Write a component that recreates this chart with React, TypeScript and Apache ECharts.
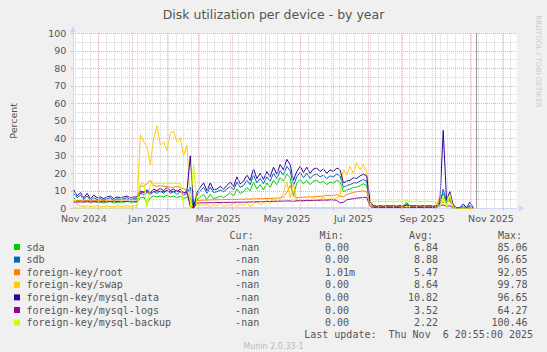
import React, { useEffect, useRef } from 'react';
import * as echarts from 'echarts';

// Time axis: days since 2024-11-01 00:00
const START_DAY = 8;
const STEP_DAYS = 3;
const X_MIN = 7.25;
const X_MAX = 407.25;
const NOW_DAY = 370.87;
const monthStartDays = [30, 61, 92, 120, 151, 181, 212, 242, 273, 304, 334, 365, 395];
const FIRST_WEEK_DAY = 9;
const labelDays = [17, 76, 138, 200, 260, 322, 384];
const labelTexts = ['Nov 2024', 'Jan 2025', 'Mar 2025', 'May 2025', 'Jul 2025', 'Sep 2025', 'Nov 2025'];

const sda = [
  6, 4, 4.5, 3.5, 4.5, 3, 4, 3.5, 3.5, 3, 3.5, 4, 3, 3.5, 3.5, 3.5, 4, 3.5, 3.5,
  3.5, 6, 6.5, 3, 6, 7, 6.5, 7, 6.5, 7.5, 6.5, 7, 6, 7, 5.5, 6.5,
  6, 0.2,
  5, 6.5, 8, 5, 8, 5.5, 6, 7, 6, 7.5,
  9, 7, 11, 8.5, 9.5, 12, 10, 15, 11, 13.5,
  10.5, 14.5, 12, 16, 13.5, 17.5, 15.5, 19.5, 17.5, 7,
  14.5, 16.5, 14, 16, 13.5, 15.5, 16, 14.5, 15.5, 13.5,
  15, 14.5, 16, 15, 9.5, 10.5, 11, 12, 12, 13,
  14, 13, 2,
  1, 0.8, 1, 0.8, 1, 0.9, 1, 0.8, 1, 0.9,
  3.5, 1, 0.9, 1, 0.8, 1, 0.9, 1, 0.8, 1,
  4, 8.5, 3, 5, 0.5, 0.1, 0.1, 0.5, 0.1, 1, 0.1,
];
const sdb = [
  8.5, 6, 7.5, 5, 7, 4.5, 6, 5, 5.5, 4.5, 5.5, 6, 4.5, 5.5, 5, 5.5, 6, 5, 5.5,
  5.5, 8.5, 8, 9, 8, 9.5, 8.5, 10, 8.5, 10.5, 8.5, 9.5, 8, 9.5, 7.5, 8.5,
  12, 0.3,
  7.5, 10, 12, 8.5, 12, 9, 9.5, 10.5, 9.5, 11,
  12.5, 10.5, 15, 12, 13, 16, 13.5, 19, 14.5, 17,
  14, 18, 15.5, 20, 17, 21.5, 19, 24, 21.5, 13,
  18, 20.5, 17.5, 20, 17, 19, 19.5, 18, 19, 17,
  18.5, 18, 19.5, 18.5, 12, 13, 13.5, 14.5, 14.5, 15.5,
  16.5, 15.5, 3,
  1.3, 1, 1.2, 1, 1.2, 1.1, 1.2, 1, 1.2, 1.1,
  1.8, 1.2, 1.1, 1.2, 1, 1.2, 1.1, 1.2, 1, 1.2,
  2.5, 11, 4, 6, 1, 0.2, 0.2, 1, 0.2, 1.5, 0.2,
];
const fkRoot = [
  4, 4.3, 4.3, 4.4, 4.4, 4.5, 4.5, 4.5, 4.6, 4.6, 4.6, 4.7, 4.7, 4.7, 4.8, 4.8, 4.8, 4.9, 5,
  5, 13, 12.5, 14, 16, 13, 12.5, 13, 12.5, 12.5, 12, 12, 12.5, 12, 11, 10.5,
  2, 0.5,
  4.5, 4.6, 4.7, 4.7, 4.8, 4.8, 4.9, 4.9, 5, 5,
  5, 5.1, 5.1, 5.2, 5.2, 5.3, 5.3, 5.4, 5.4, 5.5,
  5.5, 5.6, 5.6, 5.7, 5.8, 6, 6.5, 9, 13, 7,
  6, 6.2, 6.3, 6.5, 6.5, 6.6, 6.8, 6.8, 7, 7.5,
  7.2, 7.3, 7.8, 7, 6.5, 8, 8.5, 9, 9.5, 9.8,
  10, 9.5, 2,
  1, 0.9, 1, 0.9, 1, 0.9, 1, 0.9, 1, 0.9,
  2.5, 1, 0.9, 1, 0.9, 1, 0.9, 1, 0.9, 1.5,
  6.5, 3, 5, 4, 1, 0.2, 0.1, 0.3, 0.1, 0.3, 0.1,
];
const fkSwap = [
  5, 2, 1.5, 1, 1.5, 1, 1.2, 1.5, 1, 1, 1.5, 1, 1, 1.5, 1, 1.2, 1.5, 1, 1.5,
  1.5, 42, 38, 35, 25, 40, 47, 36, 38, 33, 43, 44, 38, 40, 30, 36,
  1, 0.2,
  2.5, 2, 1.5, 2.5, 1, 2, 1.5, 3, 1, 2,
  1.5, 3, 1, 2.5, 1.5, 3.5, 1, 2.5, 4, 2,
  3, 5, 3, 6, 3.5, 5, 9, 15, 6, 14,
  4, 5, 3.5, 5.5, 4, 6, 4.5, 5, 6.5, 4,
  5.5, 5, 6, 7, 22, 19, 24, 20, 26, 22,
  25, 21, 3,
  0.8, 0.7, 0.9, 0.8, 0.7, 0.8, 0.9, 0.7, 0.8, 0.8,
  1.5, 0.8, 0.7, 0.9, 0.8, 0.7, 0.8, 0.9, 0.8, 1,
  4, 6, 2, 7, 0.5, 0.2, 0.2, 0.2, 0.2, 0.2, 0.2,
];
const fkMysqlData = [
  10.5, 7, 9, 6, 8.5, 5.5, 7.5, 6, 6.5, 5.5, 6.5, 7, 5.5, 6.5, 6, 6.5, 7, 6, 6.5,
  6.5, 10, 9, 10.5, 9, 11, 10, 11.5, 10, 12, 10, 11, 9.5, 11, 8.5, 10,
  30, 0.5,
  9, 12, 14.5, 10, 14.5, 10.5, 11, 12.5, 11, 13,
  15, 12.5, 18, 14, 15.5, 19, 16, 22.5, 17, 20,
  16.5, 21, 18, 23.5, 19.5, 25, 22, 28, 25, 16,
  21, 24, 20.5, 23.5, 20, 22.5, 23, 21, 22.5, 20,
  22, 21, 23, 22, 14.5, 15.5, 16, 17.5, 17, 18.5,
  19.5, 18.5, 4,
  1.5, 1.2, 1.5, 1.2, 1.5, 1.3, 1.5, 1.2, 1.5, 1.3,
  2, 1.5, 1.3, 1.5, 1.2, 1.5, 1.3, 1.5, 1.2, 1.5,
  3, 44.5, 5, 9.5, 2, 0.3, 0.3, 2.5, 0.3, 3.5, 0.3,
];
const fkMysqlLogs = [
  3.5, 3.6, 3.6, 3.6, 3.7, 3.7, 3.7, 3.7, 3.8, 3.8, 3.8, 3.8, 3.8, 3.9, 3.9, 3.9, 3.9, 4, 4,
  4, 9, 9.5, 9.5, 9, 9.5, 10, 9.5, 9.5, 10, 9.5, 9.5, 10, 9.5, 9, 9,
  1, 0.1,
  3, 3.1, 3.1, 3.2, 3.2, 3.2, 3.3, 3.3, 3.3, 3.4,
  3.4, 3.4, 3.5, 3.5, 3.5, 3.6, 3.6, 3.7, 3.7, 3.8,
  3.8, 3.9, 3.9, 4, 4, 4.1, 4.1, 4.2, 4.2, 4,
  4.3, 4.3, 4.4, 4.4, 4.5, 4.5, 4.6, 4.6, 4.7, 4.7,
  4.8, 4.8, 4.5, 3, 3.5, 4.8, 5.2, 5.5, 5.8, 6,
  6.2, 6.3, 1,
  0.5, 0.5, 0.4, 0.5, 0.5, 0.4, 0.5, 0.5, 0.4, 0.5,
  0.6, 0.5, 0.4, 0.5, 0.5, 0.4, 0.5, 0.5, 0.4, 0.5,
  1.5, 2, 1, 1.5, 0.2, 0.1, 0.1, 0.1, 0.1, 0.1, 0.1,
];
const fkMysqlBackup = [
  0.3, 0.2, 0.2, 0.3, 0.2, 0.2, 0.3, 0.2, 0.2, 0.3, 0.2, 0.2, 0.3, 0.2, 0.2, 0.3, 0.2, 0.2, 0.3,
  0.5, 14, 14.5, 0.5, 14, 14.5, 14, 14.5, 14, 14.5, 14, 14.5, 14, 14.5, 0.3, 0.2,
  0.2, 25,
  0.4, 0.4, 0.5, 0.4, 0.4, 0.5, 0.4, 0.4, 0.5, 0.4,
  0.4, 0.5, 0.4, 0.4, 0.5, 0.4, 0.4, 0.5, 0.4, 0.4,
  0.5, 0.4, 0.4, 0.5, 0.4, 0.4, 0.5, 0.4, 0.4, 0.5,
  0.4, 0.4, 0.5, 0.4, 0.4, 0.5, 0.4, 0.4, 0.5, 0.4,
  0.4, 0.5, 0.4, 0.4, 0.5, 0.4, 0.4, 0.5, 0.4, 0.4,
  0.5, 0.4, 2,
  4, 4.2, 3.8, 4, 3.9, 4.1, 3.8, 4, 4.2, 3.9,
  4.5, 4, 3.8, 4.1, 3.9, 4, 4.2, 3.8, 4, 3,
  0.3, 6, 0.2, 8, 0.1, 0, 0, 0, 0, 0, 0,
];

const seriesNames = ['sda', 'sdb', 'foreign-key/root', 'foreign-key/swap', 'foreign-key/mysql-data', 'foreign-key/mysql-logs', 'foreign-key/mysql-backup'];
const seriesColors = ['#00CC00', '#0066B3', '#FF8000', '#FFCC00', '#330099', '#990099', '#CCFF00'];
const seriesValues = [sda, sdb, fkRoot, fkSwap, fkMysqlData, fkMysqlLogs, fkMysqlBackup];
const curValues = ['-nan', '-nan', '-nan', '-nan', '-nan', '-nan', '-nan'];
const minValues = ['0.00', '0.00', '1.01m', '0.00', '0.00', '0.00', '0.00'];
const avgValues = ['6.84', '8.88', '5.47', '8.64', '10.82', '3.52', '2.22'];
const maxValues = ['85.06', '96.65', '92.05', '99.78', '96.65', '64.27', '100.46'];

const TITLE = 'Disk utilization per device - by year';
const Y_NAME = 'Percent';
const LAST_UPDATE = 'Last update:\u00a0 Thu Nov\u00a0 6 20:55:00 2025';
const FOOTER = 'Munin 2.0.33-1';
const WATERMARK = 'RRDTOOL / TOBI OETIKER';

const SANS = 'DejaVu Sans';
const MONO = 'DejaVu Sans Mono';
const MINOR_GRID = '#D4D4D4';
const MAJOR_GRID = '#F4AAAA';

function buildOption() {
  const days = sda.map((_, i) => START_DAY + STEP_DAYS * i);
  const weekDays: number[] = [];
  for (let d = FIRST_WEEK_DAY; d < X_MAX; d += 7) weekDays.push(d);

  const gridMarks = [
    ...weekDays.map((d) => ({ xAxis: d, lineStyle: { color: MINOR_GRID, type: [1, 1], width: 1 } })),
    ...monthStartDays.map((d) => ({ xAxis: d, lineStyle: { color: MAJOR_GRID, type: [1, 1], width: 1 } })),
    { xAxis: NOW_DAY, lineStyle: { color: '#999999', type: 'solid', width: 1 } },
  ];

  const graphics: any[] = [];
  const txt = (text: string, x: number, y: number, opts: any = {}) => ({
    type: 'text',
    silent: true,
    x,
    y,
    rotation: opts.rotation || 0,
    style: {
      text,
      fill: opts.fill || '#555555',
      fontSize: opts.fontSize || 10,
      fontFamily: opts.fontFamily || MONO,
      align: opts.align || 'left',
      verticalAlign: 'middle',
      textAlign: opts.align || 'left',
      textVerticalAlign: 'middle',
    },
  });

  graphics.push(txt(TITLE, 273.5, 14.5, { fontFamily: SANS, fontSize: 12.5, align: 'center', fill: '#555555' }));
  graphics.push(txt(WATERMARK, 538.5, 61.5, { fontFamily: SANS, fontSize: 7.2, align: 'center', fill: '#CCCCCC', rotation: -Math.PI / 2 }));

  const headerY = 235;
  graphics.push(txt('Cur:', 229.6, headerY));
  graphics.push(txt('Min:', 319.6, headerY));
  graphics.push(txt('Avg:', 409, headerY));
  graphics.push(txt('Max:', 498, headerY));

  seriesNames.forEach((name, i) => {
    const y = 247 + 12.6 * i;
    graphics.push({
      type: 'rect',
      silent: true,
      shape: { x: 14, y: y - 3, width: 6, height: 6 },
      style: { fill: seriesColors[i] },
    });
    graphics.push(txt(name, 26.5, y));
    graphics.push(txt(curValues[i], 259.2, y, { align: 'right' }));
    const m = minValues[i].match(/^([-0-9.]+|-nan)([a-zA-Z]?)$/);
    const num = m ? m[1] : minValues[i];
    const unit = m ? m[2] : '';
    graphics.push(txt(num, 349, y, { align: 'right' }));
    if (unit) graphics.push(txt(unit, 349, y));
    graphics.push(txt(avgValues[i], 438, y, { align: 'right' }));
    graphics.push(txt(maxValues[i], 527.6, y, { align: 'right' }));
  });

  graphics.push(txt(LAST_UPDATE, 533, 334.6, { align: 'right' }));
  graphics.push(txt(FOOTER, 273.5, 346, { fontFamily: SANS, fontSize: 8, align: 'center', fill: '#BBBBBB' }));

  return {
    animation: false,
    backgroundColor: '#F0F0F0',
    textStyle: { fontFamily: SANS },
    grid: {
      left: 66.7,
      top: 33.3,
      width: 450,
      height: 175,
      show: true,
      backgroundColor: '#FFFFFF',
      borderWidth: 0,
      containLabel: false,
    },
    xAxis: {
      type: 'value',
      min: X_MIN,
      max: X_MAX,
      axisLine: {
        show: true,
        lineStyle: { color: '#CFD6F8', width: 1 },
        symbol: ['none', 'triangle'],
        symbolSize: [6, 6],
        symbolOffset: [0, 5],
      },
      axisTick: {
        show: true,
        customValues: monthStartDays,
        length: 2,
        lineStyle: { color: MAJOR_GRID, width: 1 },
      },
      splitLine: { show: false },
      axisLabel: {
        customValues: labelDays,
        formatter: (v: number) => {
          const idx = labelDays.indexOf(v);
          return idx >= 0 ? labelTexts[idx] : '';
        },
        color: '#555555',
        fontSize: 9.5,
        lineHeight: 9.5,
        fontFamily: SANS,
        margin: 5.5,
      },
    },
    yAxis: {
      type: 'value',
      min: 0,
      max: 100,
      interval: 10,
      name: Y_NAME,
      nameLocation: 'middle',
      nameGap: 55,
      nameTextStyle: { color: '#555555', fontSize: 9.5, fontFamily: SANS },
      axisLine: {
        show: true,
        lineStyle: { color: '#CFD6F8', width: 1 },
        symbol: ['none', 'triangle'],
        symbolSize: [6, 6],
        symbolOffset: [0, 4],
      },
      axisTick: { show: true, length: 2, lineStyle: { color: MAJOR_GRID, width: 1 } },
      axisLabel: { color: '#555555', fontSize: 9.5, lineHeight: 8, fontFamily: SANS, margin: 6.7 },
      splitLine: { show: true, lineStyle: { color: MAJOR_GRID, type: [1, 1], width: 1 } },
      minorTick: { show: false, splitNumber: 2 },
      minorSplitLine: { show: true, lineStyle: { color: MINOR_GRID, type: [1, 1], width: 1 } },
    },
    graphic: { elements: graphics },
    series: [
      {
        type: 'line',
        name: 'grid',
        data: [],
        z: 1,
        silent: true,
        markLine: {
          symbol: ['none', 'none'],
          silent: true,
          animation: false,
          label: { show: false },
          emphasis: { disabled: true },
          data: gridMarks,
        },
      },
      ...seriesNames.map((name, si) => ({
        type: 'line',
        name,
        z: 3,
        silent: true,
        showSymbol: false,
        symbol: 'none',
        data: days.map((d, i) => [d, seriesValues[si][i]]),
        lineStyle: { width: 1, color: seriesColors[si] },
        itemStyle: { color: seriesColors[si] },
        emphasis: { disabled: true },
      })),
    ],
  };
}

export default function App() {
  const ref = useRef<HTMLDivElement>(null);
  useEffect(() => {
    if (!ref.current) return;
    const chart = echarts.init(ref.current, null, { renderer: 'svg' });
    chart.setOption(buildOption() as any);
    return () => chart.dispose();
  }, []);
  return (
    <div
      ref={ref}
      style={{ position: 'absolute', left: 0, top: 0, width: 547, height: 352 }}
    />
  );
}
